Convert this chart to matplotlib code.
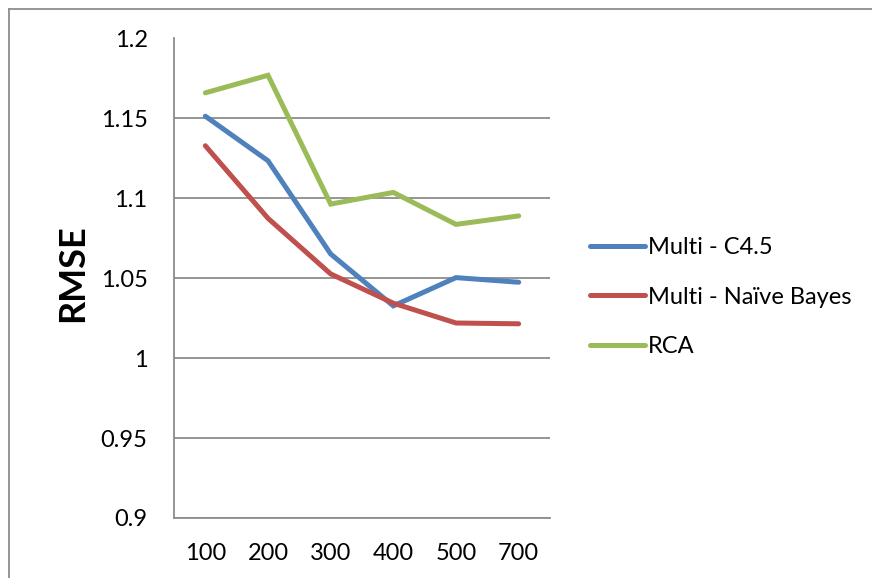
import matplotlib
matplotlib.use("Agg")
import matplotlib.pyplot as plt
from matplotlib.lines import Line2D

plt.rcParams['font.family'] = ['Lato', 'DejaVu Sans']

categories = ["100", "200", "300", "400", "500", "700"]
series_names = ["Multi - C4.5", "Multi - Naïve Bayes", "RCA"]
c45 = [1.1514, 1.1235, 1.0652, 1.0327, 1.0504, 1.0475]
naive_bayes = [1.1329, 1.0875, 1.0527, 1.0344, 1.0220, 1.0215]
rca = [1.1660, 1.1770, 1.0964, 1.1037, 1.0837, 1.0890]
y_ticks = [0.9, 0.95, 1.0, 1.05, 1.1, 1.15, 1.2]
y_tick_labels = ["0.9", "0.95", "1", "1.05", "1.1", "1.15", "1.2"]

colors = ["#4F81BD", "#C0504D", "#9BBB59"]
W, H = 872, 578
fig = plt.figure(figsize=(W / 100, H / 100), dpi=100)

left, right, top, bottom = 174, 550, 38.5, 518
ax = fig.add_axes([left / W, 1 - bottom / H, (right - left) / W, (bottom - top) / H])

x = list(range(len(categories)))
for vals, name, col in zip([c45, naive_bayes, rca], series_names, colors):
    ax.plot(x, vals, color=col, lw=3.6, solid_capstyle='round',
            solid_joinstyle='miter', label=name, zorder=3)

fs = 17
ax.set_xlim(-0.5, len(categories) - 0.5)
ax.set_ylim(0.9, 1.2)
ax.set_yticks(y_ticks)
ax.set_yticklabels(y_tick_labels)
ax.set_xticks(x)
ax.set_xticklabels(categories)
ax.yaxis.grid(True, color="#8C8C8C", lw=1.3, zorder=1)
ax.tick_params(axis='both', length=0, labelsize=fs, colors="#000000")
ax.tick_params(axis='y', pad=19)
ax.tick_params(axis='x', pad=18)
for s in ["top", "right"]:
    ax.spines[s].set_visible(False)
for s in ["left", "bottom"]:
    ax.spines[s].set_color("#8C8C8C")
    ax.spines[s].set_linewidth(1.3)

fig.text(73 / W, 1 - 273 / H, "RMSE", rotation=90, ha='center', va='center',
         fontsize=26, fontweight='bold')

handles = [Line2D([0], [0], color=c, lw=3.6, solid_capstyle='round') for c in colors]
fig.legend(handles, series_names, loc='center left',
           bbox_to_anchor=(590 / W, 1 - 297 / H), frameon=False,
           fontsize=fs, handlelength=2.35, handletextpad=0.1,
           labelspacing=1.2, borderpad=0, borderaxespad=0)

# outer chart frame (top and left edges)
fig.add_artist(Line2D([9 / W, 1.0], [1 - 9 / H, 1 - 9 / H], color="#8C8C8C", lw=1.3,
                      transform=fig.transFigure))
fig.add_artist(Line2D([9 / W, 9 / W], [0.0, 1 - 9 / H], color="#8C8C8C", lw=1.3,
                      transform=fig.transFigure))

fig.savefig("out.png", dpi=100, facecolor="white")
